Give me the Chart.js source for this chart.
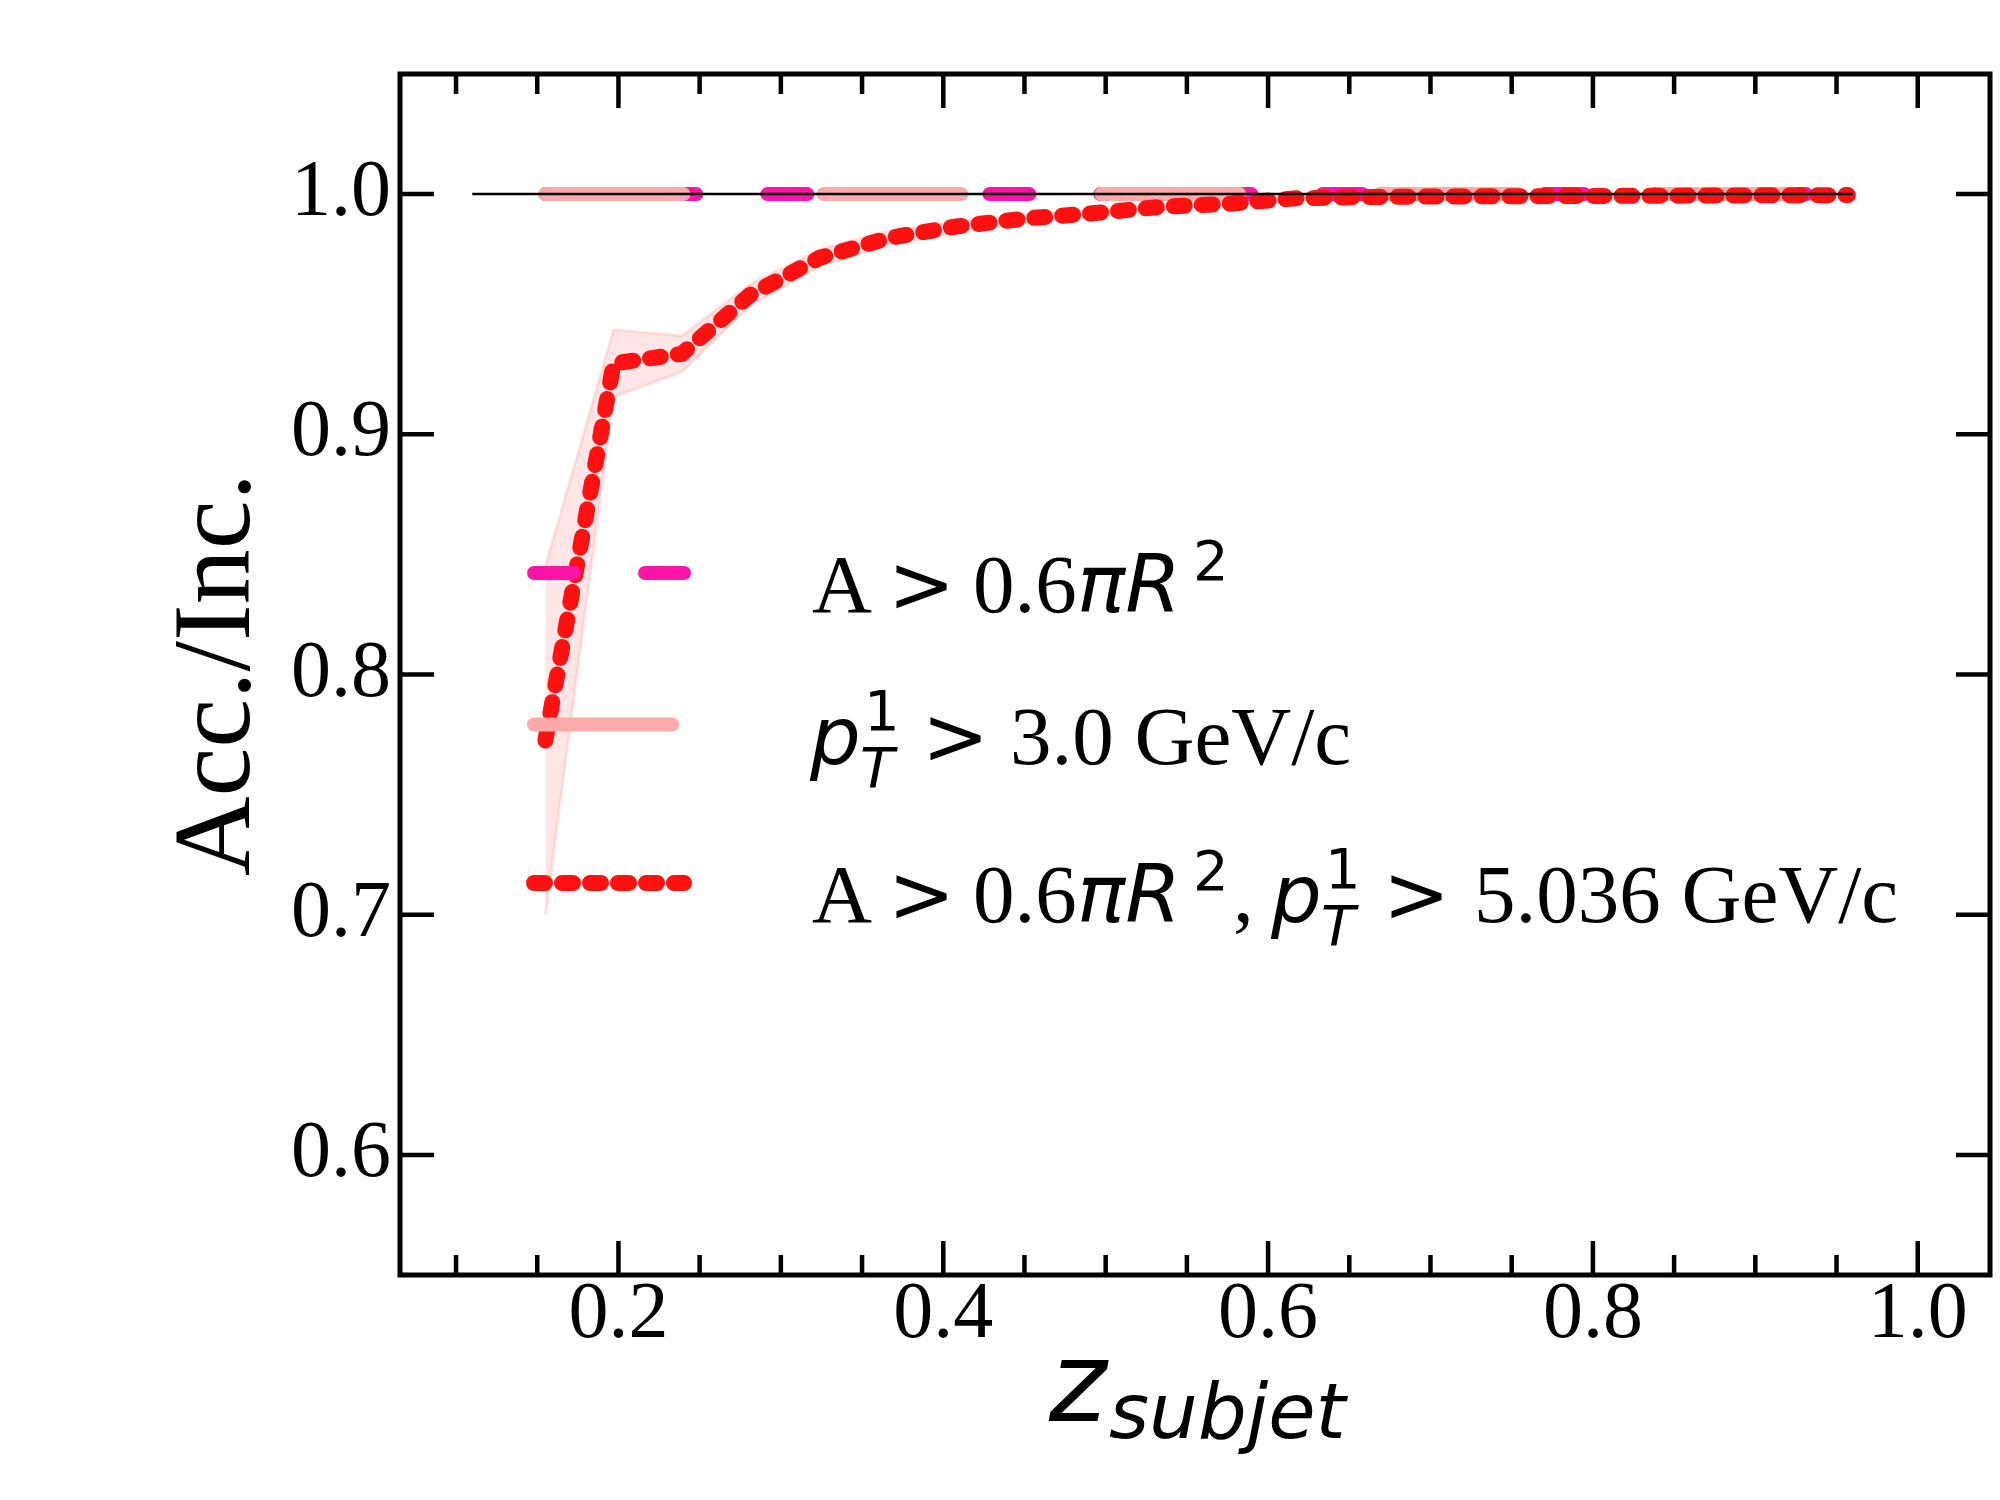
<!DOCTYPE html>
<html lang="en">
<head>
<meta charset="UTF-8">
<title>Acc./Inc. vs z_subjet</title>
<script src="https://cdn.jsdelivr.net/npm/chart.js@4.4.1/dist/chart.umd.min.js"></script>
<style>
    html, body { margin: 0; padding: 0; background: #ffffff; }
    canvas { display: block; }
</style>
</head>
<body>
<canvas id="accChart" width="2000" height="1500"></canvas>
<script>
    // bin centres on z_subjet
    const xVals = [0.155, 0.197, 0.239, 0.281, 0.324, 0.366, 0.408, 0.450, 0.492, 0.534,
                   0.576, 0.618, 0.660, 0.703, 0.745, 0.787, 0.829, 0.871, 0.913, 0.957];
    // A > 0.6 pi R^2
    const areaCutY = [1.0, 1.0, 1.0, 1.0, 1.0, 1.0, 1.0, 1.0, 1.0, 1.0,
                      1.0, 1.0, 1.0, 1.0, 1.0, 1.0, 1.0, 1.0, 1.0, 1.0];
    // pT1 > 3.0 GeV/c
    const ptCutY = [1.0, 1.0, 1.0, 1.0, 1.0, 1.0, 1.0, 1.0, 1.0, 1.0,
                    1.0, 1.0, 1.0, 1.0, 1.0, 1.0, 1.0, 1.0, 1.0, 1.0];
    // A > 0.6 pi R^2, pT1 > 5.036 GeV/c
    const bothCutY = [0.7725, 0.9295, 0.9335, 0.9580, 0.9735, 0.9817, 0.9865, 0.9898, 0.9920, 0.9947,
                      0.9960, 0.9983, 0.9988, 0.9990, 0.9991, 0.9992, 0.9993, 0.9994, 0.9995, 0.9996];
    const bothCutErr = [0.0725, 0.0140, 0.0075, 0.0045, 0.0035, 0.0028, 0.0022, 0.0018, 0.0015, 0.0012,
                        0.0010, 0.0008, 0.0006, 0.0005, 0.0004, 0.0004, 0.0003, 0.0003, 0.0002, 0.0002];
    // reference line at unity
    const refX = [0.11, 0.96];
    const refY = [1.0, 1.0];

    const xMajorTicks = [0.2, 0.4, 0.6, 0.8, 1.0];
    const xMinorTicks = [0.1, 0.15, 0.25, 0.3, 0.35, 0.45, 0.5, 0.55, 0.65, 0.7, 0.75, 0.85, 0.9, 0.95];
    const yTicks = [0.6, 0.7, 0.8, 0.9, 1.0];

    const SERIF = "'Liberation Serif', 'Times New Roman', serif";
    const SANS = "'DejaVu Sans', sans-serif";
    const LEG = '83px ' + SERIF;

    const pts = (xs, ys) => xs.map((x, i) => ({ x: x, y: ys[i] }));

    // legend rows: dataset index, line y, text baseline, text runs [text, font, x, dy]
    const legendRows = [
        { ds: 3, y: 573, base: 612, runs: [
            ['A', LEG, 812, 0],
            ['>', '80px ' + SANS, 888, 0],
            ['0.6', LEG, 973, 0],
            ['\u03c0R', 'italic 80px ' + SANS, 1077, 0],
            ['2', '56px ' + SANS, 1193, -32]
        ]},
        { ds: 2, y: 724.5, base: 764, runs: [
            ['p', 'italic 80px ' + SANS, 810, 0],
            ['1', '56px ' + SANS, 864, -34],
            ['T', 'italic 56px ' + SANS, 860, 23],
            ['>', '80px ' + SANS, 922, 0],
            ['3.0 GeV/c', LEG, 1010, 0]
        ]},
        { ds: 1, y: 883, base: 922, runs: [
            ['A', LEG, 812, 0],
            ['>', '80px ' + SANS, 888, 0],
            ['0.6', LEG, 973, 0],
            ['\u03c0R', 'italic 80px ' + SANS, 1077, 0],
            ['2', '56px ' + SANS, 1193, -32],
            [',', LEG, 1233, 0],
            ['p', 'italic 80px ' + SANS, 1271, 0],
            ['1', '56px ' + SANS, 1325, -34],
            ['T', 'italic 56px ' + SANS, 1321, 23],
            ['>', '80px ' + SANS, 1383, 0],
            ['5.036 GeV/c', LEG, 1474, 0]
        ]}
    ];

    const axesDecor = {
        id: 'axesDecor',
        afterDraw(chart) {
            const ctx = chart.ctx;
            const a = chart.chartArea;
            const xs = chart.scales.x;
            const ys = chart.scales.y;
            ctx.save();

            // inward ticks on all four sides
            ctx.strokeStyle = '#000';
            ctx.lineCap = 'butt';
            ctx.lineWidth = 4.5;
            ctx.beginPath();
            xMajorTicks.forEach(v => {
                const px = xs.getPixelForValue(v);
                ctx.moveTo(px, a.bottom); ctx.lineTo(px, a.bottom - 34);
                ctx.moveTo(px, a.top); ctx.lineTo(px, a.top + 34);
            });
            xMinorTicks.forEach(v => {
                const px = xs.getPixelForValue(v);
                ctx.moveTo(px, a.bottom); ctx.lineTo(px, a.bottom - 20);
                ctx.moveTo(px, a.top); ctx.lineTo(px, a.top + 20);
            });
            yTicks.forEach(v => {
                const py = ys.getPixelForValue(v);
                ctx.moveTo(a.left, py); ctx.lineTo(a.left + 34, py);
                ctx.moveTo(a.right, py); ctx.lineTo(a.right - 34, py);
            });
            ctx.stroke();

            ctx.lineWidth = 5;
            ctx.strokeRect(a.left, a.top, a.right - a.left, a.bottom - a.top);

            // x axis title: z_subjet
            ctx.fillStyle = '#000';
            ctx.textBaseline = 'alphabetic';
            ctx.textAlign = 'left';
            ctx.font = 'italic 110px ' + SANS;
            ctx.fillText('z', 1049, 1421);
            ctx.font = 'italic 77px ' + SANS;
            ctx.fillText('subjet', 1109, 1438);

            // legend
            legendRows.forEach(row => {
                const ds = chart.data.datasets[row.ds];
                ctx.save();
                ctx.strokeStyle = ds.borderColor;
                ctx.lineWidth = ds.borderWidth;
                ctx.lineCap = 'round';
                ctx.setLineDash(ds.borderDash || []);
                ctx.beginPath();
                ctx.moveTo(534, row.y);
                ctx.lineTo(684, row.y);
                ctx.stroke();
                ctx.restore();
                row.runs.forEach(r => {
                    ctx.font = r[1];
                    ctx.fillText(r[0], r[2], row.base + r[3]);
                });
            });
            ctx.restore();
        }
    };

    const ctx = document.getElementById('accChart').getContext('2d');
    new Chart(ctx, {
        type: 'line',
        data: {
            datasets: [
                {
                    label: 'ref',
                    data: pts(refX, refY),
                    borderColor: '#000000',
                    borderWidth: 2.5,
                    order: 1
                },
                {
                    label: 'A > 0.6\u03c0R\u00b2, pT1 > 5.036 GeV/c',
                    data: pts(xVals, bothCutY),
                    borderColor: '#ff1111',
                    borderWidth: 16,
                    borderDash: [11, 17],
                    borderCapStyle: 'round',
                    order: 2
                },
                {
                    label: 'pT1 > 3.0 GeV/c',
                    data: pts(xVals, ptCutY),
                    borderColor: '#ffaaaa',
                    borderWidth: 14,
                    borderDash: [138, 140],
                    borderCapStyle: 'round',
                    order: 3
                },
                {
                    label: 'A > 0.6\u03c0R\u00b2',
                    data: pts(xVals, areaCutY),
                    borderColor: '#ff14a8',
                    borderWidth: 14,
                    borderDash: [40, 71],
                    borderCapStyle: 'round',
                    order: 4
                },
                {
                    label: 'band upper',
                    data: pts(xVals, bothCutY.map((v, i) => v + bothCutErr[i])),
                    borderColor: 'rgba(255, 0, 0, 0.1)',
                    backgroundColor: 'rgba(255, 0, 0, 0.1)',
                    borderWidth: 3,
                    fill: '+1',
                    order: 5
                },
                {
                    label: 'band lower',
                    data: pts(xVals, bothCutY.map((v, i) => v - bothCutErr[i])),
                    borderColor: 'rgba(255, 0, 0, 0.1)',
                    borderWidth: 3,
                    fill: false,
                    order: 5
                }
            ]
        },
        options: {
            responsive: false,
            animation: false,
            devicePixelRatio: 1,
            layout: { padding: { left: 0, right: 10, top: 74, bottom: 0 } },
            elements: {
                point: { radius: 0 },
                line: { tension: 0 }
            },
            plugins: {
                legend: { display: false },
                tooltip: { enabled: false }
            },
            scales: {
                x: {
                    type: 'linear',
                    min: 0.0655,
                    max: 1.0445,
                    afterBuildTicks: s => { s.ticks = xMajorTicks.map(v => ({ value: v })); },
                    afterFit: s => { s.height = 225; },
                    grid: { display: false, drawTicks: false },
                    border: { display: false },
                    ticks: {
                        padding: -7,
                        color: '#000',
                        maxRotation: 0,
                        font: { family: SERIF, size: 80 },
                        callback: v => v.toFixed(1)
                    }
                },
                y: {
                    type: 'linear',
                    min: 0.55,
                    max: 1.05,
                    afterBuildTicks: s => { s.ticks = yTicks.map(v => ({ value: v })); },
                    afterFit: s => { s.width = 400; },
                    grid: { display: false, drawTicks: false },
                    border: { display: false },
                    ticks: {
                        padding: 9,
                        color: '#000',
                        font: { family: SERIF, size: 80 },
                        callback: v => v.toFixed(1)
                    },
                    title: {
                        display: true,
                        text: 'Acc./Inc.',
                        color: '#000',
                        font: { family: SERIF, size: 110 },
                        padding: { top: 154, bottom: 0 }
                    }
                }
            }
        },
        plugins: [axesDecor]
    });
</script>
</body>
</html>
